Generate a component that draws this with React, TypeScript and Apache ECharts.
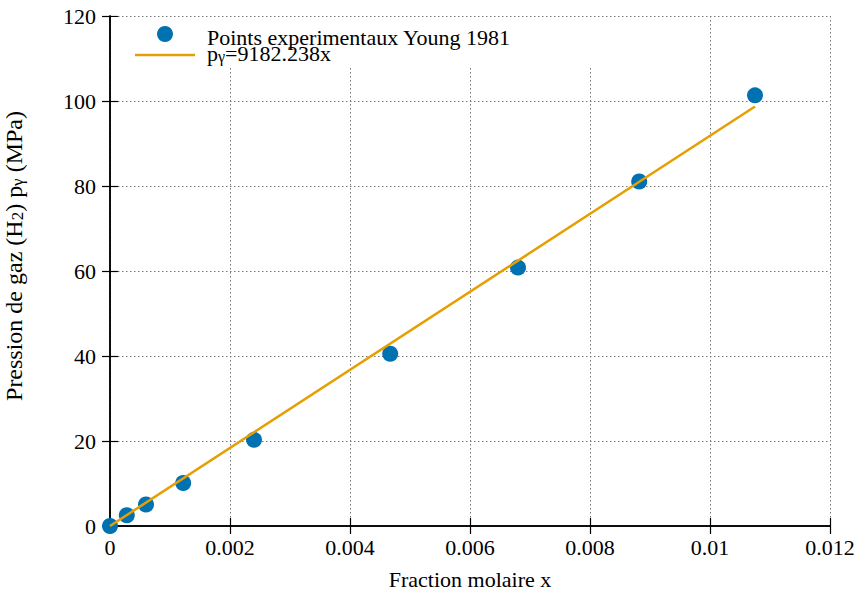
import React, { useEffect, useRef } from "react";
import * as echarts from "echarts";

const FONT = "'Liberation Serif', 'DejaVu Serif', 'Times New Roman', serif";

// Experimental points (Young 1981): mole fraction x, pressure (MPa)
const pointX = [0, 0.00028, 0.0006, 0.00122, 0.0024, 0.00467, 0.0068, 0.00882, 0.01075];
const pointY = [0, 2.53, 5.07, 10.13, 20.27, 40.53, 60.8, 81.06, 101.33];

// Fitted line end points
const fitX = [0, 0.01075];
const fitY = [0, 98.71];

const seriesNames = ["Points experimentaux Young 1981", "pγ=9182.238x"];
const xTicks = { min: 0, max: 0.012, interval: 0.002 };
const yTicks = { min: 0, max: 120, interval: 20 };

export default function App() {
  const ref = useRef<HTMLDivElement>(null);
  useEffect(() => {
    if (!ref.current) return;
    const chart = echarts.init(ref.current, null, { renderer: "svg" });
    const labelStyle = { fontFamily: FONT, fontSize: 22, color: "#000" };
    const axisLine = { show: true, lineStyle: { color: "#000", width: 1.5 } };
    const tick = { show: true, inside: true, length: 8, lineStyle: { color: "#000", width: 1.2 } };
    const grid = { show: true, lineStyle: { color: "#777", type: [1.5, 2.5] as any, width: 1 } };
    const fmtX = (v: number) => String(+v.toFixed(3));
    const rich = {
      a: { fontFamily: FONT, fontSize: 22, color: "#000", lineHeight: 16, verticalAlign: "top" },
      sub: { fontFamily: FONT, fontSize: 16, color: "#000", lineHeight: 16, verticalAlign: "top", padding: [6, 0, 0, 0] },
    };
    const richY = {
      a: { fontFamily: FONT, fontSize: 24, color: "#000", lineHeight: 18, verticalAlign: "top" },
      sub: { fontFamily: FONT, fontSize: 17, color: "#000", lineHeight: 17, verticalAlign: "top", padding: [7, 0, 0, 0] },
    };
    chart.setOption({
      animation: false,
      backgroundColor: "#fff",
      grid: { left: 110, right: 29, top: 16, bottom: 68, containLabel: false, outerBoundsMode: "none" },
      xAxis: [
        {
          type: "value", position: "bottom", ...xTicks, z: 0,
          axisLine, axisTick: tick, splitLine: grid,
          axisLabel: { ...labelStyle, margin: 10, formatter: fmtX },
          name: "Fraction molaire x", nameLocation: "middle", nameGap: 42,
          nameTextStyle: { ...labelStyle },
        },
        {
          type: "value", position: "top", ...xTicks, z: 3,
          axisLine, axisTick: tick, splitLine: { show: false }, axisLabel: { show: false },
        },
      ],
      yAxis: [
        {
          type: "value", position: "left", ...yTicks, z: 0,
          axisLine, axisTick: tick, splitLine: grid,
          axisLabel: { ...labelStyle, margin: 14 },
          name: "{a|Pression de gaz (H}{sub|2}{a|) p}{sub|γ}{a| (MPa)}",
          nameLocation: "middle", nameGap: 90,
          nameTextStyle: { ...labelStyle, padding: [0, 0, 0, 30], rich: richY },
        },
        {
          type: "value", position: "right", ...yTicks, z: 3,
          axisLine, axisTick: tick, splitLine: { show: false }, axisLabel: { show: false },
        },
      ],
      graphic: [
        { type: "rect", z: 1, shape: { x: 111, y: 17, width: 490, height: 50 }, style: { fill: "#fff" }, silent: true },
        { type: "circle", z: 6, shape: { cx: 165, cy: 34, r: 8 }, style: { fill: "#0072b2" }, silent: true },
        { type: "line", z: 6, shape: { x1: 135, y1: 55, x2: 195, y2: 55 }, style: { stroke: "#e69f00", lineWidth: 2.5 }, silent: true },
        {
          type: "text", z: 6, x: 207, y: 26, silent: true,
          style: { text: "{a|" + seriesNames[0] + "}", rich, verticalAlign: "top", align: "left" },
        },
        {
          type: "text", z: 6, x: 207, y: 42, silent: true,
          style: { text: "{a|p}{sub|γ}{a|=9182.238x}", rich, verticalAlign: "top", align: "left" },
        },
      ],
      series: [
        {
          name: seriesNames[0], type: "scatter", xAxisIndex: 0, yAxisIndex: 0,
          symbol: "circle", symbolSize: 16, itemStyle: { color: "#0072b2", opacity: 1 },
          data: pointX.map((x, i) => [x, pointY[i]]), z: 4,
        },
        {
          name: seriesNames[1], type: "line", xAxisIndex: 0, yAxisIndex: 0,
          showSymbol: false, symbol: "none", lineStyle: { color: "#e69f00", width: 2.5 },
          itemStyle: { color: "#e69f00" },
          data: fitX.map((x, i) => [x, fitY[i]]), z: 5,
        },
      ],
    });
    return () => chart.dispose();
  }, []);
  return <div ref={ref} style={{ position: "fixed", left: 0, top: 0, width: 859, height: 594 }} />;
}
